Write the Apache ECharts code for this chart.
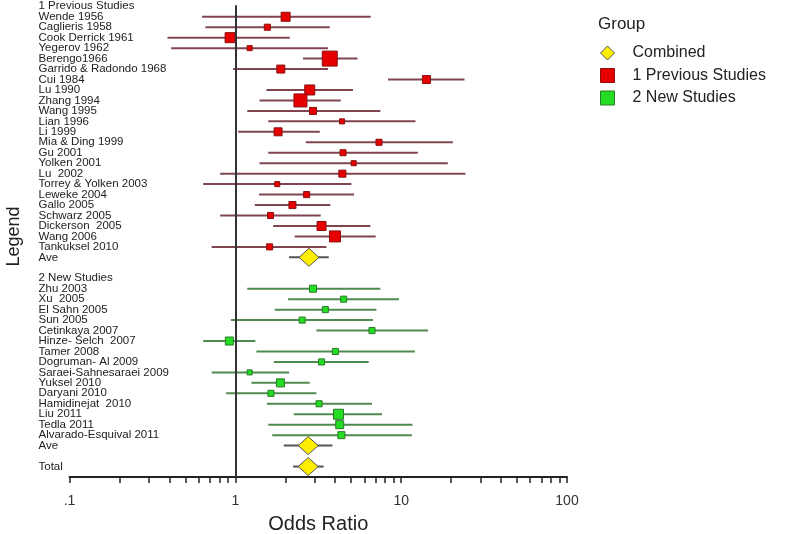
<!DOCTYPE html>
<html>
<head>
<meta charset="utf-8">
<script src="https://cdn.jsdelivr.net/npm/echarts@6/dist/echarts.min.js"></script>
<style>html,body{margin:0;padding:0;background:#fff}#c{width:800px;height:534px}</style>
</head>
<body>
<div id="c"></div>
<script>
// ---- data ----
const prevNames = ['Wende 1956','Caglieris 1958','Cook Derrick 1961','Yegerov 1962','Berengo1966','Garrido & Radondo 1968','Cui 1984','Lu 1990','Zhang 1994','Wang 1995','Lian 1996','Li 1999','Mia & Ding 1999','Gu 2001','Yolken 2001','Lu  2002','Torrey & Yolken 2003','Leweke 2004','Gallo 2005','Schwarz 2005','Dickerson  2005','Wang 2006','Tankuksel 2010'];
const prevOR  = [2.01,1.56,0.93,1.22,3.71,1.88,14.2,2.81,2.47,2.94,4.40,1.81,7.35,4.46,5.17,4.42,1.79,2.69,2.21,1.63,3.31,3.99,1.61];
const prevLo  = [0.63,0.66,0.39,0.41,2.56,0.97,8.33,1.54,1.40,1.18,1.58,1.04,2.66,1.58,1.40,0.81,0.64,1.39,1.31,0.81,1.69,2.28,0.72];
const prevHi  = [6.55,3.71,2.13,3.62,5.45,3.62,24.1,5.12,4.32,7.49,12.2,3.23,20.5,12.6,19.1,24.4,5.01,5.20,3.74,3.27,6.52,7.02,3.54];
const prevWt  = [5.1,2.3,6.3,1.6,14,4,4,6.3,10.6,3.1,1.6,4,2.3,2.3,1.6,3.1,1.6,2.3,3.1,2.3,5.1,7.6,2.3];

const newNames = ['Zhu 2003','Xu  2005','El Sahn 2005','Sun 2005','Cetinkaya 2007','Hinze- Selch  2007','Tamer 2008','Dogruman- Al 2009','Saraei-Sahnesaraei 2009','Yuksel 2010','Daryani 2010','Hamidinejat  2010','Liu 2011','Tedla 2011','Alvarado-Esquival 2011'];
const newOR   = [2.94,4.50,3.49,2.53,6.67,0.92,4.01,3.31,1.22,1.87,1.64,3.20,4.19,4.26,4.36];
const newLo   = [1.18,2.08,1.73,0.94,3.08,0.64,1.34,1.71,0.72,1.25,0.88,1.55,2.25,1.58,1.67];
const newHi   = [7.49,9.70,7.09,6.76,14.5,1.32,12.1,6.37,2.11,2.81,3.08,6.67,7.66,11.7,11.6];
const newWt   = [3.1,2.3,2.3,2.3,2.3,4,2.3,2.3,1.6,4,2.3,2.3,6.3,4,3.1];

const combNames = ['Ave','Ave','Total'];
const combOR  = [2.78,2.75,2.75];
const combLo  = [2.11,1.96,2.23];
const combHi  = [3.66,3.85,3.41];

const refOR = 1;
const tickValues  = [0.1,0.2,0.3,0.4,0.5,0.6,0.7,0.8,0.9,1,2,3,4,5,6,7,8,9,10,20,30,40,50,60,70,80,90,100];
const labelValues = [0.1,1,10,100];

// ---- row layout ----
const rowLabels = ['1 Previous Studies'].concat(prevNames, ['Ave',''], ['2 New Studies'], newNames, ['Ave',''], ['Total']);
const prevStart = 1;
const prevAveRow = prevStart + prevNames.length;           // 24
const newStart = prevAveRow + 3;                            // 27
const newAveRow = newStart + newNames.length;               // 42
const totalRow = newAveRow + 2;                             // 44
const combRows = [prevAveRow, newAveRow, totalRow];
const lastRow = totalRow + 1;

const prevData = prevNames.map((n,i)=>[prevLo[i],prevOR[i],prevHi[i],prevStart+i,prevWt[i]]);
const newData  = newNames.map((n,i)=>[newLo[i],newOR[i],newHi[i],newStart+i,newWt[i]]);
const combData = combNames.map((n,i)=>[combLo[i],combOR[i],combHi[i],combRows[i],0]);

function makeRender(lineColor, fill, stroke, diamond){
  return function(params, api){
    const lo=api.value(0), pt=api.value(1), hi=api.value(2), row=api.value(3), w=api.value(4);
    const a=api.coord([lo,row]), p=api.coord([pt,row]), b=api.coord([hi,row]);
    const children=[{type:'line',shape:{x1:a[0],y1:a[1],x2:b[0],y2:b[1]},style:{stroke:lineColor,lineWidth:2}}];
    if(diamond){
      const hw=10, hh=9;
      children.push({type:'polygon',shape:{points:[[p[0]-hw,p[1]],[p[0],p[1]-hh],[p[0]+hw,p[1]],[p[0],p[1]+hh]]},style:{fill:fill,stroke:stroke,lineWidth:1}});
    } else {
      const s=4*Math.sqrt(w);
      children.push({type:'rect',shape:{x:p[0]-s/2,y:p[1]-s/2,width:s,height:s},style:{fill:fill,stroke:stroke,lineWidth:1}});
    }
    return {type:'group',children:children};
  };
}

const chart = echarts.init(document.getElementById('c'));
chart.setOption({
  animation:false,
  backgroundColor:'#fff',
  title:{text:'Group',left:593,top:11,textStyle:{fontFamily:'Liberation Sans',fontSize:17,fontWeight:'normal',color:'#222'}},
  legend:{
    orient:'vertical',left:595,top:40,itemWidth:14,itemHeight:14,itemGap:6.5,
    textStyle:{fontFamily:'Liberation Sans',fontSize:16,color:'#222',lineHeight:16,padding:[0,0,0,13]},
    data:[
      {name:'Combined',icon:'diamond',itemStyle:{color:'#ffee00',borderColor:'#555',borderWidth:1}},
      {name:'1 Previous Studies',icon:'rect',itemStyle:{color:'#e60000',borderColor:'#8a1010',borderWidth:1}},
      {name:'2 New Studies',icon:'rect',itemStyle:{color:'#22dd22',borderColor:'#2a7a2a',borderWidth:1}}
    ]
  },
  grid:{left:69.5,right:233,top:-4.16,bottom:57,containLabel:false,outerBoundsMode:'none'},
  xAxis:{
    type:'log',logBase:10,min:0.1,max:100,position:'bottom',
    name:'Odds Ratio',nameLocation:'middle',nameGap:37,
    nameTextStyle:{fontFamily:'Liberation Sans',fontSize:20,color:'#222'},
    axisLine:{onZero:false,lineStyle:{color:'#222',width:2}},
    axisTick:{show:true,customValues:tickValues,length:6,lineStyle:{color:'#222',width:1.5}},
    axisLabel:{customValues:labelValues,margin:17,fontFamily:'Liberation Sans',fontSize:14,color:'#333',
      formatter:function(v){return v<0.5?'.1':String(Math.round(v));}},
    splitLine:{show:false},minorTick:{show:false}
  },
  yAxis:{
    type:'value',inverse:true,min:-1,max:lastRow,interval:1,
    name:'Legend',nameLocation:'middle',nameRotate:90,nameGap:46,
    nameTextStyle:{fontFamily:'Liberation Sans',fontSize:18,color:'#222'},
    axisLine:{show:false},axisTick:{show:false},splitLine:{show:false},
    axisLabel:{align:'left',margin:31,hideOverlap:false,fontFamily:'Liberation Sans',fontSize:11.5,color:'#222',
      formatter:function(v){return rowLabels[v]||'';}}
  },
  series:[
    {name:'1 Previous Studies',type:'custom',itemStyle:{color:'#e60000'},renderItem:makeRender('#7f4650','#e60000','#8a1010',false),data:prevData,
      markLine:{silent:true,symbol:'none',label:{show:false},lineStyle:{color:'#333',width:2,type:'solid'},
        data:[[{coord:[refOR,-0.1]},{coord:[refOR,lastRow]}]]}},
    {name:'2 New Studies',type:'custom',itemStyle:{color:'#22dd22'},renderItem:makeRender('#4f8a4f','#22dd22','#2a7a2a',false),data:newData},
    {name:'Combined',type:'custom',itemStyle:{color:'#ffee00'},renderItem:makeRender('#555','#ffee00','#555',true),data:combData}
  ]
});
</script>
</body>
</html>
